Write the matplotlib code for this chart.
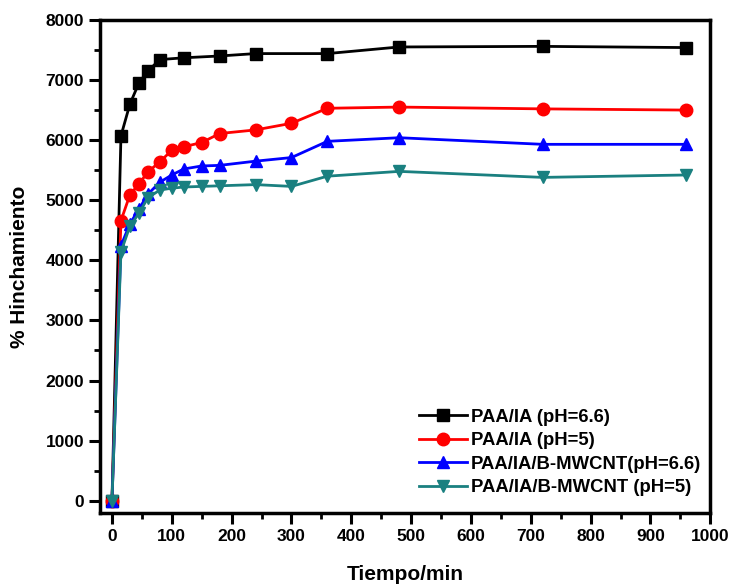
import numpy as np
import matplotlib
matplotlib.use("Agg")
import matplotlib.pyplot as plt
from matplotlib.ticker import MultipleLocator

plt.rcParams['font.family'] = ['Liberation Sans', 'DejaVu Sans']
plt.rcParams['font.weight'] = 'bold'

# tiempo (min)
t_black = [0, 15, 30, 45, 60, 80, 120, 180, 240, 360, 480, 720, 960]
t_all = [0, 15, 30, 45, 60, 80, 100, 120, 150, 180, 240, 300, 360, 480, 720, 960]

paa_66 = [0, 6070, 6600, 6950, 7150, 7340, 7370, 7400, 7440, 7440, 7550, 7560, 7540]
paa_5 = [0, 4660, 5090, 5270, 5470, 5640, 5830, 5890, 5960, 6110, 6170, 6280, 6530, 6550, 6520, 6500]
cnt_66 = [0, 4240, 4610, 4850, 5100, 5300, 5420, 5520, 5570, 5580, 5650, 5710, 5980, 6040, 5930, 5930]
cnt_5 = [0, 4140, 4570, 4780, 5040, 5170, 5200, 5220, 5230, 5240, 5260, 5230, 5400, 5480, 5380, 5420]

labels = ["PAA/IA (pH=6.6)", "PAA/IA (pH=5)", "PAA/IA/B-MWCNT(pH=6.6)", "PAA/IA/B-MWCNT (pH=5)"]

fig = plt.figure(figsize=(7.3, 5.86), dpi=100)
ax = fig.add_axes([0.137, 0.125, 0.836, 0.841])

ax.plot(t_black, paa_66, color='black', marker='s', ms=8, lw=2, label=labels[0])
ax.plot(t_all, paa_5, color='#ff0000', marker='o', ms=9, lw=2, label=labels[1])
ax.plot(t_all, cnt_66, color='#0000ff', marker='^', ms=9, lw=2, label=labels[2])
ax.plot(t_all, cnt_5, color='#1a8080', marker='v', ms=9, lw=2, label=labels[3])

ax.set_xlim(-20, 1000)
ax.set_ylim(-200, 8000)
ax.xaxis.set_major_locator(MultipleLocator(100))
ax.xaxis.set_minor_locator(MultipleLocator(50))
ax.yaxis.set_major_locator(MultipleLocator(1000))
ax.yaxis.set_minor_locator(MultipleLocator(500))

for s in ax.spines.values():
    s.set_linewidth(2.5)
ax.tick_params(which='major', length=8, width=2.2, labelsize=12.5)
ax.tick_params(which='minor', length=4, width=2)
for lab in ax.get_xticklabels() + ax.get_yticklabels():
    lab.set_fontweight('bold')

ax.set_xlabel("Tiempo/min", fontsize=15, fontweight='bold', labelpad=15)
ax.set_ylabel("% Hinchamiento", fontsize=15, fontweight='bold', labelpad=12)

ax.legend(loc='lower right', bbox_to_anchor=(1.0, 0.015), frameon=False,
          handlelength=2.6, handletextpad=0.2, labelspacing=0.35,
          borderaxespad=0.1, prop={'weight': 'bold', 'size': 13.3})

fig.savefig("out.png", dpi=100)
